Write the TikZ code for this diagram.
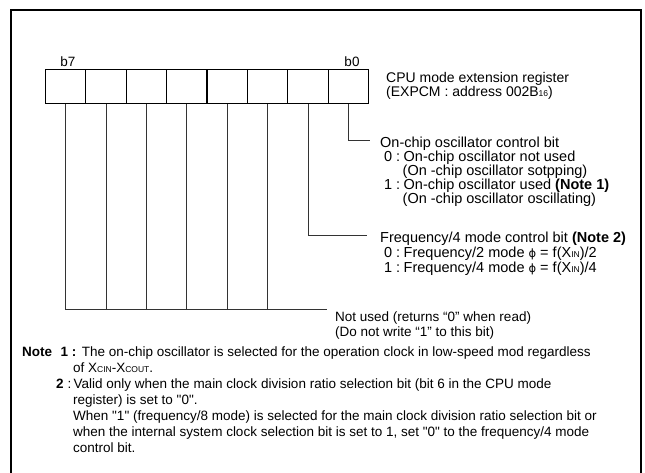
\documentclass[tikz,border=0pt]{standalone}
\usepackage{fontspec}
\setmainfont{Liberation Sans}[Ligatures=TeXOff]
\newfontfamily\djfont{DejaVu Sans}
\newcommand{\lo}[1]{{\fontsize{8.5}{9}\selectfont #1}}
\newcommand{\phisym}{{\djfont\fontsize{11.5}{12}\selectfont ϕ}}
\begin{document}
\begin{tikzpicture}[x=1pt,y=-1pt,
  txt/.style={anchor=base west, inner sep=0pt, font=\fontsize{13.5}{14}\selectfont},
  ttl/.style={txt, font=\fontsize{14}{14}\selectfont},
  desc/.style={txt, font=\fontsize{14.5}{14}\selectfont},
  cell/.style={draw, line width=1.3pt, minimum width=40.4pt, minimum height=34pt, inner sep=0pt, anchor=north west},
  lead/.style={line width=0.9pt, black!80},
  frame/.style={line width=2pt}]
\useasboundingbox (0,0) rectangle (645,472);
% outer frame (open at bottom)
\draw[frame] (11,473) -- (11,10.3) -- (641.3,10.3) -- (641.3,473);
% register cells
\foreach \i in {0,...,7}{
  \node[cell] (c\i) at ({44.7+(7-\i)*40.4},69) {};
}
\node[txt, anchor=base] (b7) at (68,66.5) {b7};
\node[txt, anchor=base] (b0) at (352,66.5) {b0};
\node[ttl] (reg1) at (386,82.5) {CPU mode extension register};
\node[ttl] (reg2) at (386,96.5) {(EXPCM : address 002B\lo{16})};
% bit 0
\node[desc] (t0) at (380,147.5) {On-chip oscillator control bit};
\node[desc] (t0a) at (384,161.5) {0};
\node[desc] (t0b) at (396,161.5) {:};
\node[desc] (t0c) at (403.5,161.5) {On-chip oscillator not used};
\node[desc] (t0d) at (402.5,175.5) {(On -chip oscillator sotpping)};
\node[desc] (t0e) at (384,189.5) {1};
\node[desc] (t0f) at (396,189.5) {:};
\node[desc] (t0g) at (403.5,189.5) {On-chip oscillator used \textbf{(Note 1)}};
\node[desc] (t0h) at (402.5,203.5) {(On -chip oscillator oscillating)};
% bit 1
\node[desc] (t1) at (380,242.5) {Frequency/4 mode control bit \textbf{(Note 2)}};
\node[desc] (t1a) at (384,257.5) {0};
\node[desc] (t1b) at (396,257.5) {:};
\node[desc] (t1c) at (403.5,257.5) {Frequency/2 mode \phisym{} = f(X\lo{IN})/2};
\node[desc] (t1d) at (384,272.5) {1};
\node[desc] (t1e) at (396,272.5) {:};
\node[desc] (t1f) at (403.5,272.5) {Frequency/4 mode \phisym{} = f(X\lo{IN})/4};
% bits 2-7
\node[txt] (t2) at (335,321.5) {Not used (returns “0” when read)};
\node[txt] (t2a) at (335,336.5) {(Do not write “1” to this bit)};
% leader lines
\coordinate (e0) at (370,140);
\coordinate (e1) at (367,235);
\coordinate (e2) at (327,309);
\draw[lead] (c0.south) |- (e0);
\draw[lead] (c1.south) |- (e1);
\draw[lead] (c7.south) |- (e2);
\foreach \i in {2,...,6}{
  \draw[lead] (c\i.south) -- (c\i.south |- e2);
}
% notes
\node[txt] (n0) at (22,356.2) {\textbf{Note}};
\node[txt] (n1) at (60.5,356.2) {\textbf{1 :}};
\node[txt] (n1a) at (81.7,356.2) {The on-chip oscillator is selected for the operation clock in low-speed mod regardless};
\node[txt] (n1b) at (73,372.3) {of X\lo{CIN}-X\lo{COUT}.};
\node[txt] (n2) at (56,388.4) {\textbf{2}};
\node[txt] (n2c) at (67.5,388.4) {:};
\node[txt] (n2a) at (73.5,388.4) {Valid only when the main clock division ratio selection bit (bit 6 in the CPU mode};
\node[txt] (n2b) at (73,404.5) {register) is set to "0".};
\node[txt] (n2d) at (73,420.6) {When "1" (frequency/8 mode) is selected for the main clock division ratio selection bit or};
\node[txt] (n2e) at (73,436.7) {when the internal system clock selection bit is set to 1, set "0" to the frequency/4 mode};
\node[txt] (n2f) at (73,452.8) {control bit.};
\end{tikzpicture}
\end{document}
